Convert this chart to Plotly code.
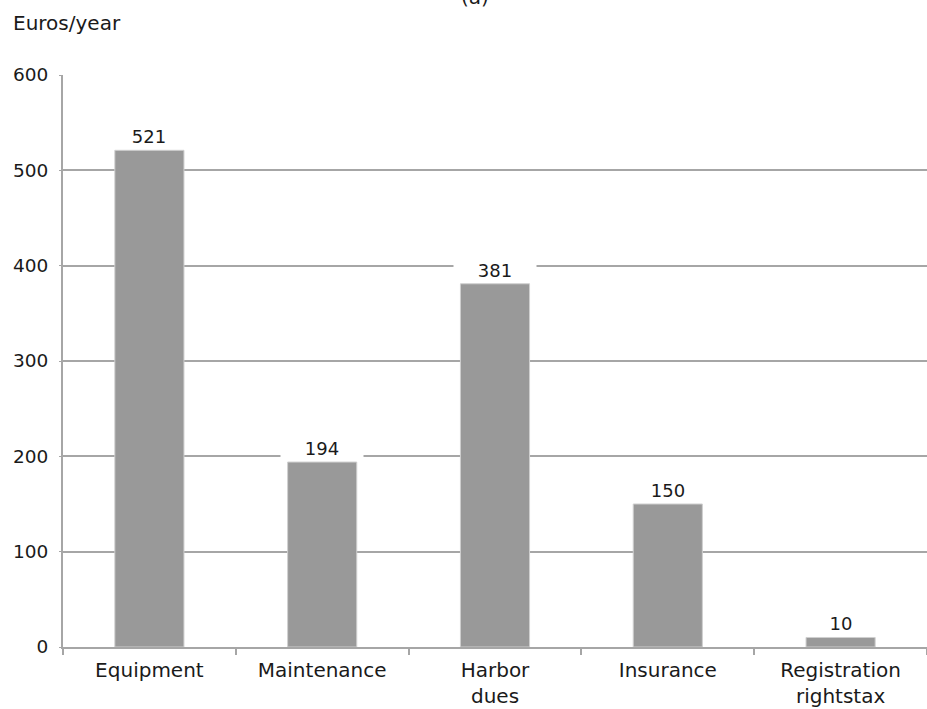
import plotly.graph_objects as go

categories = ["Equipment", "Maintenance", "Harbor<br>dues", "Insurance", "Registration<br>rightstax"]
values = [521, 194, 381, 150, 10]
y_ticks = [0, 100, 200, 300, 400, 500, 600]

FONT = "DejaVu Sans"
TXT = "#1a1a1a"
GRID = "#a6a6a6"

fig = go.Figure()
fig.add_trace(go.Bar(
    x=categories, y=values,
    marker=dict(color="#999999", line=dict(color="#cfcfcf", width=1)),
    width=0.4,
    hoverinfo="skip",
))

for c, v in zip(categories, values):
    fig.add_annotation(
        x=c, y=v, xref="x", yref="y", text=str(v), showarrow=False,
        yanchor="bottom", yshift=1, bgcolor="white", width=80,
        font=dict(family=FONT, size=18, color=TXT),
        borderpad=1,
    )

fig.add_annotation(
    x=(12 - 63) / 864, xref="paper", y=1, yref="paper", text="Euros/year", showarrow=False,
    xanchor="left", yanchor="middle", yshift=52, borderpad=0,
    font=dict(family=FONT, size=20, color=TXT),
)

fig.add_annotation(
    x=(475 - 63) / 864, xref="paper", y=1, yref="paper", text="(a)", showarrow=False,
    xanchor="center", yanchor="bottom", yshift=64,
    font=dict(family=FONT, size=20, color=TXT),
)

fig.update_layout(
    width=927, height=709,
    margin=dict(l=63, r=0, t=75, b=62, autoexpand=False),
    paper_bgcolor="white", plot_bgcolor="white",
    showlegend=False,
    font=dict(family=FONT, size=20, color=TXT),
)
fig.update_yaxes(
    range=[0, 600], tickvals=y_ticks,
    showgrid=True, gridcolor=GRID, gridwidth=2,
    showline=True, linecolor=GRID, linewidth=2,
    ticks="outside", ticklen=2, tickcolor=GRID,
    zeroline=False, ticklabelstandoff=7, automargin=False,
    tickfont=dict(family=FONT, size=18.5, color=TXT),
)
fig.update_xaxes(
    showline=True, linecolor=GRID, linewidth=2,
    ticks="outside", ticklen=6, tickcolor=GRID, tickwidth=1.5, tickson="boundaries",
    showgrid=False, automargin=False, ticklabelstandoff=4,
    tickfont=dict(family=FONT, size=20, color=TXT),
)

fig.write_html(
    "out.html",
    config={"displayModeBar": False},
    post_script="document.body.style.margin='0';document.body.style.overflow='hidden';",
)
